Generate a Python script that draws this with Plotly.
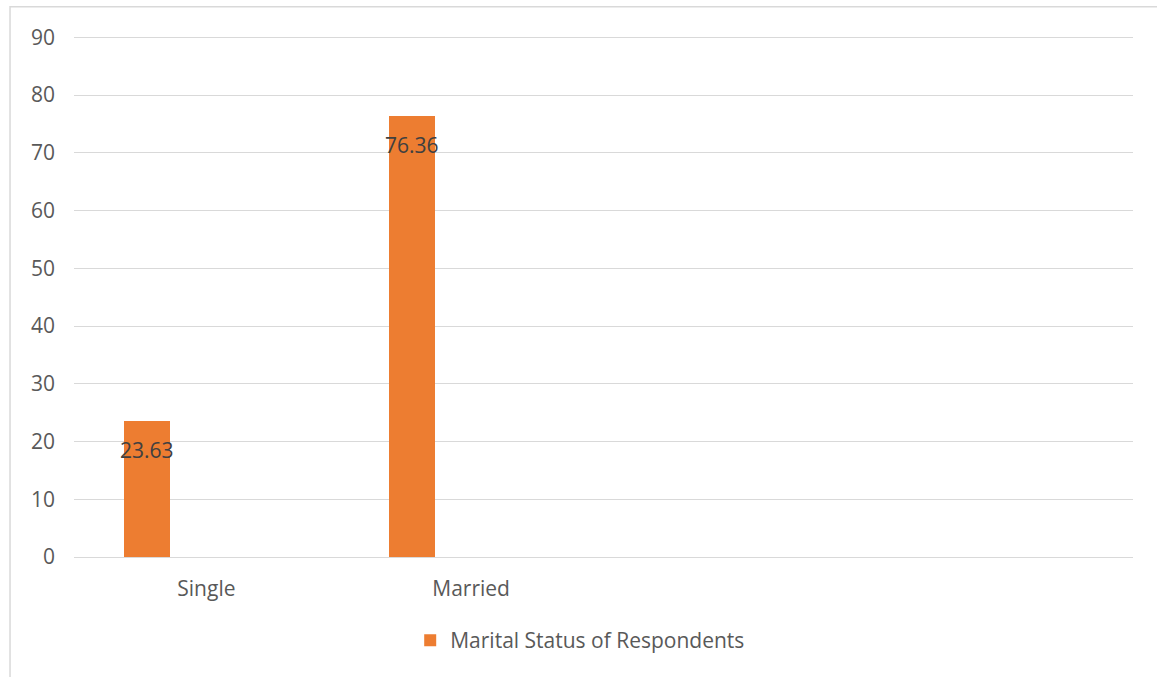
import plotly.graph_objects as go

# Marital status of respondents (%)
categories = ["Single", "Married"]
values = [23.63, 76.36]
series_name = "Marital Status of Respondents"
y_ticks = [0, 10, 20, 30, 40, 50, 60, 70, 80, 90]

ORANGE = "#ED7D31"
GRID = "#D9D9D9"
TEXT = "#595959"
LABEL = "#404040"
FONT = "Open Sans"

# clustered layout: bar sits in the left part of each category slot
bar_width = 0.174
bar_offset = -0.311

fig = go.Figure()
fig.add_trace(go.Bar(
    x=categories,
    y=values,
    name=series_name,
    width=bar_width,
    offset=bar_offset,
    marker=dict(color=ORANGE, line=dict(width=0)),
    showlegend=True,
))

# value labels just inside the top of each bar
for i, v in enumerate(values):
    fig.add_annotation(
        x=i + bar_offset + bar_width / 2, y=v, xref="x", yref="y",
        text=f"{v:.2f}", showarrow=False, yanchor="top", yshift=-13,
        font=dict(family=FONT, size=21, color=LABEL),
    )

# chart-area frame
fig.add_shape(type="rect", xref="paper", yref="paper",
              x0=-0.0604, x1=1.2, y0=-0.4, y1=1.054,
              line=dict(color=GRID, width=1.5), fillcolor="rgba(0,0,0,0)",
              layer="below")

fig.update_layout(
    width=1157, height=677,
    margin=dict(l=74, r=24, t=35, b=120),
    paper_bgcolor="white", plot_bgcolor="white",
    font=dict(family=FONT, size=21, color=TEXT),
    bargap=0,
    xaxis=dict(
        type="category", range=[-0.5, 3.5],
        showgrid=False, showline=False, zeroline=False, ticks="",
        ticklabelstandoff=17,
        tickfont=dict(family=FONT, size=21, color=TEXT),
    ),
    yaxis=dict(
        range=[0, 90.4], tickvals=y_ticks,
        showgrid=True, gridcolor=GRID, gridwidth=1.3,
        zeroline=True, zerolinecolor=GRID, zerolinewidth=1.3,
        showline=False, ticks="", ticklabelstandoff=18,
        tickfont=dict(family=FONT, size=21, color=TEXT),
    ),
    legend=dict(
        orientation="h", x=0.478, xanchor="center", y=-0.16, yanchor="middle",
        font=dict(family=FONT, size=21, color=TEXT),
        bgcolor="rgba(0,0,0,0)",
    ),
)

fig.write_html("out.html")
